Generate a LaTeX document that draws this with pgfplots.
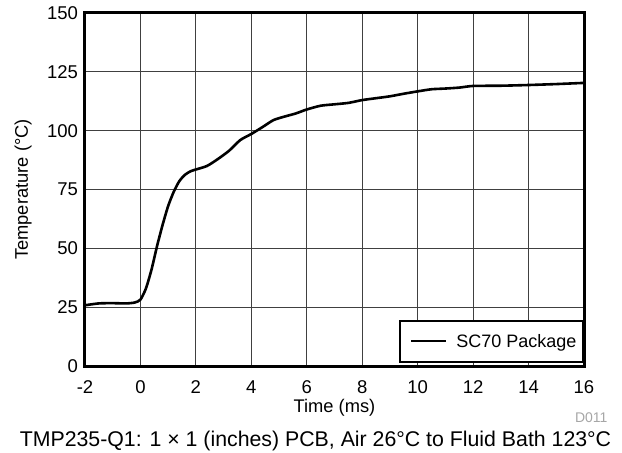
\documentclass[border=0pt]{standalone}
\usepackage{fontspec}
\setmainfont{Liberation Sans}
\usepackage{pgfplots}
\pgfplotsset{compat=1.18}
\begin{document}
\begin{tikzpicture}
\begin{axis}[
    scale only axis,
    width=499pt, height=353pt,
    xmin=-2, xmax=16, ymin=0, ymax=150,
    xtick={-2,0,2,4,6,8,10,12,14,16},
    xticklabels={-2,0,2,4,6,8,10,12,14,16},
    ytick={0,25,50,75,100,125,150},
    /pgf/number format/assume math mode=true,
    major tick length=0pt,
    grid=major,
    major grid style={black!75, line width=1pt},
    axis line style={line width=3pt},
    tick label style={font=\fontsize{18.5}{21}\selectfont},
    x tick label style={text height=13pt, text depth=0pt, yshift=-11pt},
    y tick label style={xshift=-3.5pt},
    xlabel={Time (ms)},
    ylabel={Temperature (°C)},
    label style={font=\fontsize{18.3}{21}\selectfont},
    xlabel style={at={(axis description cs:0.5,0)}, anchor=base, yshift=-46pt},
    ylabel style={at={(axis description cs:0,0.5)}, anchor=base, yshift=57pt},
    legend style={at={(rel axis cs:1,0)}, anchor=south east, yshift=3.5pt, xshift=-0.5pt,
        draw=black, line width=2pt, font=\fontsize{18}{21}\selectfont,
        inner xsep=4pt, inner ysep=11pt},
    legend image code/.code={
        \path (-6pt,0pt) (42pt,0pt);
        \draw[line width=2.2pt] (0pt,0pt) -- (35pt,0pt);},
    clip=false,
]
\addplot[black, line width=2.6pt, smooth, tension=0.4] coordinates {
(-2,25.8) (-1.5,26.6) (-1,26.7) (-0.5,26.6) (-0.2,27) (0,28.2) (0.2,33)
(0.4,41) (0.6,51) (0.8,60) (1.0,68) (1.2,74) (1.4,78.5) (1.6,81.2)
(1.8,82.7) (2.0,83.5) (2.4,85) (2.8,88) (3.2,91.5) (3.6,96) (4.0,98.6)
(4.4,101.5) (4.8,104.5) (5.2,106) (5.6,107.3) (6.0,109) (6.5,110.6)
(7.0,111.2) (7.5,111.8) (8.0,113) (8.5,113.8) (9.0,114.6) (9.5,115.7)
(10.0,116.7) (10.5,117.6) (11.0,117.9) (11.5,118.3) (12.0,119)
(13.0,119.1) (14.0,119.4) (15.0,119.8) (16.0,120.3)
};
\addlegendentry{SC70 Package}
\end{axis}
\node[anchor=base east, text=black!35, font=\fontsize{14}{16}\selectfont]
    at ([xshift=27pt, yshift=-56pt]current axis.south east) {D011};
\node[anchor=base, font=\fontsize{21.3}{25}\selectfont]
    at ([xshift=-19pt, yshift=-80pt]current axis.south) {TMP235-Q1: 1 × 1 (inches) PCB, Air 26°C to Fluid Bath 123°C};
\pgfresetboundingbox
\useasboundingbox ([xshift=-85pt, yshift=-87pt]current axis.south west)
    rectangle ([xshift=38pt, yshift=13pt]current axis.north east);
\end{tikzpicture}
\end{document}
